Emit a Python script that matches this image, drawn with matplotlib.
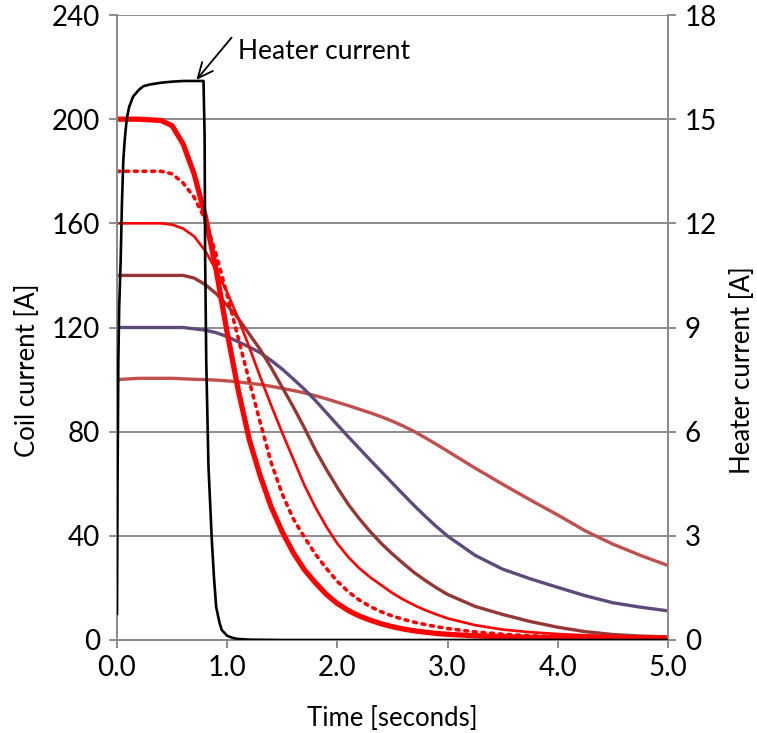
import matplotlib
matplotlib.use("Agg")
import matplotlib.pyplot as plt

plt.rcParams['font.family'] = ['Lato', 'DejaVu Sans']

# ---------------- data ----------------
time_s = [0, 0.2, 0.4, 0.5, 0.6, 0.7, 0.8, 0.9, 1.0, 1.1, 1.2, 1.3, 1.4, 1.5, 1.6, 1.7,
          1.8, 1.9, 2.0, 2.1, 2.2, 2.3, 2.4, 2.5, 2.6, 2.7, 2.8, 2.9, 3.0,
          3.25, 3.5, 3.75, 4.0, 4.25, 4.5, 4.75, 5.0]

coil_200 = [200, 200, 199.5, 197.5, 190.5, 179, 163, 142, 118, 96, 77, 63, 51, 41.5, 33.5, 27,
            22, 17.5, 14, 11.3, 9.2, 7.6, 6.2, 5.1, 4.2, 3.5, 3.0, 2.5, 2.2,
            1.6, 1.25, 1.0, 0.9, 0.8, 0.7, 0.65, 0.6]
coil_180 = [180, 180, 180, 179, 175.5, 170, 161.5, 148, 132.5, 116, 99.5, 83.5, 68, 56, 46.5, 39.5,
            33, 27.5, 22.5, 18.5, 15.3, 12.8, 10.8, 9.2, 7.9, 6.8, 5.9, 5.1, 4.4,
            3.1, 2.2, 1.6, 1.3, 1.1, 0.95, 0.85, 0.75]
coil_160 = [160, 160, 160, 159.5, 158, 155, 149.5, 142, 133.5, 123.5, 112.5, 101, 90, 79.5, 69.5, 59.5,
            51, 43.5, 37, 31.8, 27.5, 24, 21, 18, 15.5, 13.3, 11.4, 9.8, 8.3,
            5.7, 4.0, 3.0, 2.3, 1.8, 1.5, 1.3, 1.1]
coil_140 = [140, 140, 140, 140, 140, 139, 136.5, 133, 128.5, 123.5, 117.5, 111.5, 104.5, 97, 89.5, 81.5,
            73, 65.5, 58.5, 52, 46.5, 41.5, 37, 33, 29.3, 25.8, 22.8, 20, 17.5,
            12.9, 9.8, 7.1, 4.9, 3.2, 2.1, 1.5, 1.2]
coil_120 = [120, 120, 120, 120, 120, 119.5, 119, 118, 116.5, 114.5, 112.5, 110.3, 107.3, 104, 100.2, 96.3,
            92, 87.3, 82.6, 78, 73.5, 69, 64.6, 60.2, 55.8, 51.5, 47.4, 43.5, 39.9,
            32.5, 27.2, 23.5, 20.2, 17, 14.3, 12.6, 11.2]
coil_100 = [100, 100.5, 100.5, 100.5, 100.3, 100.1, 100, 99.8, 99.5, 99.1, 98.6, 98.1, 97.4, 96.6, 95.8, 94.9,
            93.8, 92.6, 91.3, 90, 88.6, 87.2, 85.7, 84, 82.1, 80, 77.6, 75.1, 72.5,
            66, 59.8, 53.8, 48, 41.9, 36.8, 32.5, 28.6]

heater_t = [0, 0.005, 0.012, 0.02, 0.033, 0.045, 0.057, 0.07, 0.088, 0.11, 0.146, 0.2, 0.24, 0.3,
            0.4, 0.5, 0.6, 0.7, 0.785, 0.795, 0.80, 0.81, 0.83, 0.86, 0.88, 0.90, 0.93, 0.95,
            1.0, 1.05, 1.1, 1.2, 1.5, 2.0, 3.0, 4.0, 5.0]
heater_a = [0.75, 4.5, 8.0, 9.6, 10.9, 12.6, 13.8, 14.4, 15.0, 15.35, 15.65, 15.85, 15.95, 16.0,
            16.05, 16.08, 16.1, 16.1, 16.1, 14.5, 11.0, 8.0, 5.0, 2.9, 1.8, 0.95, 0.5, 0.29,
            0.12, 0.06, 0.03, 0.01, 0, 0, 0, 0, 0]

x_ticks = [0, 1, 2, 3, 4, 5]
left_ticks = [0, 40, 80, 120, 160, 200, 240]
right_ticks = [0, 3, 6, 9, 12, 15, 18]

# ---------------- figure ----------------
W, H = 757, 733
fig = plt.figure(figsize=(W / 100, H / 100), dpi=100)
x0, x1, y0, y1 = 117, 668, 15, 640
ax = fig.add_axes([x0 / W, 1 - y1 / H, (x1 - x0) / W, (y1 - y0) / H])
ax2 = ax.twinx()

grey = '#8c8c8c'
TFS = 20      # tick labels
LFS = 18.5    # axis titles

ax.set_axisbelow(True)
ax.yaxis.grid(True, color=grey, linewidth=1.4)
ax.xaxis.grid(False)

ax.plot(time_s, coil_100, color='#C0504D', lw=2.4, solid_capstyle='round', zorder=3)
ax.plot(time_s, coil_120, color='#604A7B', lw=2.4, solid_capstyle='round', zorder=3)
ax.plot(time_s, coil_140, color='#953735', lw=2.4, solid_capstyle='round', zorder=3)
ax.plot(time_s, coil_160, color='#FF0000', lw=1.9, solid_capstyle='round', zorder=3)
ax.plot(time_s, coil_180, color='#FF0000', lw=2.6, linestyle=(0, (0.8, 1.6)),
        dash_capstyle='round', zorder=3)
ax.plot(time_s, coil_200, color='#FF0000', lw=3.8, solid_capstyle='round', zorder=3)

ax2.plot(heater_t, heater_a, color='black', lw=1.9, zorder=4)

ax.set_xlim(0, 5)
ax.set_ylim(0, 240)
ax2.set_ylim(0, 18)
ax.set_xticks(x_ticks)
ax.set_xticklabels([f"{v:.1f}" for v in x_ticks])
ax.set_yticks(left_ticks)
ax2.set_yticks(right_ticks)

for a in (ax, ax2):
    for s in a.spines.values():
        s.set_color(grey)
        s.set_linewidth(1.4)
    a.spines['top'].set_visible(False)
    a.tick_params(colors=grey, labelcolor='black', labelsize=TFS, width=1.4, length=6,
                  direction='out')
ax.tick_params(axis='y', pad=6)
ax.tick_params(axis='x', pad=5)
ax2.tick_params(axis='y', pad=6)

ax.set_xlabel('Time [seconds]', fontsize=LFS)
ax.set_ylabel('Coil current [A]', fontsize=LFS)
ax2.set_ylabel('Heater current [A]', fontsize=LFS)
ax.xaxis.set_label_coords(0.5, -0.105)
ax.yaxis.set_label_coords(-0.14, 0.432)
ax2.yaxis.set_label_coords(1.112, 0.432)

# annotation: arrow + text
ax2.annotate('', xy=(0.72, 16.13), xytext=(1.04, 17.35),
             arrowprops=dict(arrowstyle='->, head_length=0.55, head_width=0.25',
                             color='black', lw=1.3, mutation_scale=20,
                             shrinkA=0, shrinkB=0))
ax2.text(1.10, 16.95, 'Heater current', fontsize=19, va='center', ha='left')

fig.savefig('out.png', dpi=100)
